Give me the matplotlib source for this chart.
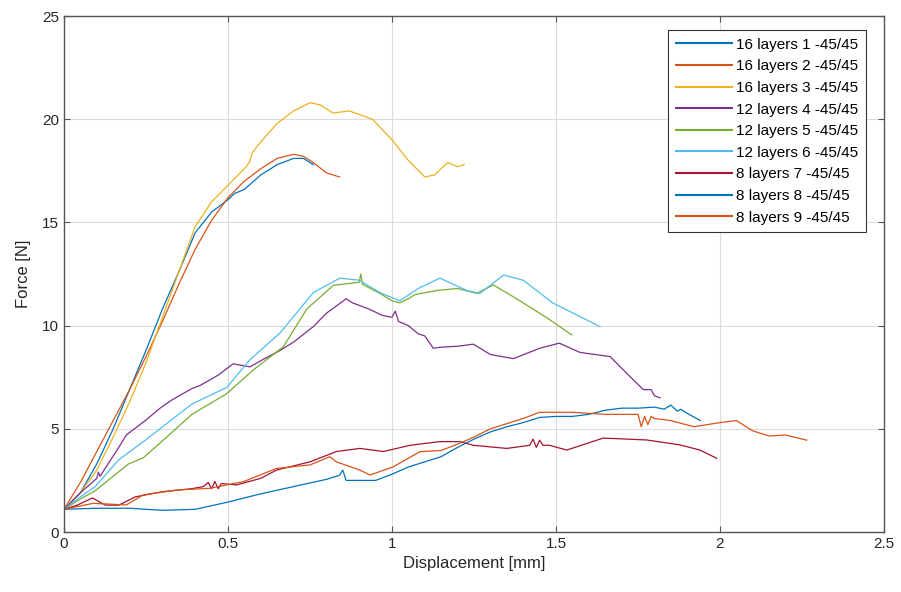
import matplotlib
matplotlib.use("Agg")
import matplotlib.pyplot as plt
import numpy as np

plt.rcParams['font.family'] = ['Liberation Sans', 'DejaVu Sans']

labels = ["16 layers 1 -45/45", "16 layers 2 -45/45", "16 layers 3 -45/45",
          "12 layers 4 -45/45", "12 layers 5 -45/45", "12 layers 6 -45/45",
          "8 layers 7 -45/45", "8 layers 8 -45/45", "8 layers 9 -45/45"]
colors = ["#0072BD", "#D95319", "#EDB120", "#7E2F8E", "#77AC30", "#4DBEEE",
          "#A2142F", "#0072BD", "#D95319"]

x1 = [0, 0.05, 0.1, 0.15, 0.2, 0.25, 0.3, 0.35, 0.4, 0.45, 0.5, 0.52, 0.55, 0.6, 0.65, 0.7, 0.73, 0.76]
y1 = [1.1, 1.9, 3.3, 5.0, 6.9, 8.8, 10.8, 12.6, 14.5, 15.5, 16.1, 16.4, 16.6, 17.3, 17.8, 18.1, 18.1, 17.8]

x2 = [0, 0.05, 0.1, 0.15, 0.2, 0.25, 0.3, 0.35, 0.4, 0.45, 0.5, 0.55, 0.6, 0.65, 0.7, 0.73, 0.76, 0.8, 0.84]
y2 = [1.1, 2.4, 3.9, 5.4, 6.9, 8.5, 10.2, 12.0, 13.7, 15.1, 16.2, 17.0, 17.6, 18.1, 18.3, 18.2, 17.9, 17.4, 17.2]

x3 = [0, 0.05, 0.1, 0.15, 0.2, 0.25, 0.3, 0.35, 0.4, 0.45, 0.5, 0.55, 0.565, 0.575, 0.6, 0.65, 0.7, 0.75, 0.78,
      0.82, 0.87, 0.94, 1.0, 1.05, 1.1, 1.13, 1.17, 1.2, 1.22]
y3 = [1.1, 1.9, 3.0, 4.6, 6.3, 8.2, 10.4, 12.6, 14.8, 16.0, 16.8, 17.6, 17.9, 18.4, 18.9, 19.8, 20.4, 20.8, 20.7,
      20.3, 20.4, 20.0, 19.0, 18.0, 17.2, 17.3, 17.9, 17.7, 17.8]

x4 = [0, 0.05, 0.1, 0.105, 0.11, 0.167, 0.19, 0.248, 0.293, 0.329, 0.39, 0.415, 0.47, 0.516, 0.567, 0.6, 0.659,
      0.7, 0.76, 0.8, 0.852, 0.86, 0.88, 0.93, 0.97, 1.0, 1.01, 1.02, 1.05, 1.08, 1.1, 1.126, 1.146, 1.2, 1.248,
      1.3, 1.37, 1.45, 1.51, 1.573, 1.665, 1.715, 1.766, 1.79, 1.8, 1.817]
y4 = [1.1, 1.9, 2.6, 2.9, 2.7, 4.1, 4.7, 5.4, 6.0, 6.4, 6.95, 7.1, 7.6, 8.15, 8.0, 8.3, 8.8,
      9.2, 9.95, 10.6, 11.2, 11.3, 11.1, 10.8, 10.5, 10.4, 10.7, 10.2, 10.0, 9.6, 9.5, 8.9, 8.95, 9.0, 9.1,
      8.6, 8.4, 8.9, 9.15, 8.7, 8.5, 7.7, 6.9, 6.9, 6.6, 6.5]

x5 = [0, 0.05, 0.095, 0.197, 0.242, 0.299, 0.39, 0.496, 0.577, 0.669, 0.74, 0.821, 0.9, 0.905, 0.91, 0.963,
      1.0, 1.024, 1.05, 1.07, 1.136, 1.2, 1.258, 1.309, 1.38, 1.47, 1.548]
y5 = [1.1, 1.6, 2.0, 3.3, 3.6, 4.4, 5.7, 6.7, 7.85, 8.98, 10.8, 11.95, 12.1, 12.5, 12.0, 11.56,
      11.2, 11.1, 11.3, 11.5, 11.7, 11.8, 11.56, 11.97, 11.3, 10.4, 9.55]

x6 = [0, 0.05, 0.095, 0.167, 0.248, 0.39, 0.496, 0.567, 0.659, 0.76, 0.841, 0.9, 0.963, 1.024, 1.08, 1.146,
      1.228, 1.268, 1.34, 1.4, 1.49, 1.553, 1.634]
y6 = [1.1, 1.7, 2.2, 3.5, 4.45, 6.2, 7.0, 8.35, 9.65, 11.6, 12.3, 12.2, 11.6, 11.2, 11.8, 12.3,
      11.7, 11.56, 12.45, 12.2, 11.1, 10.6, 9.95]

x7 = [0, 0.04, 0.087, 0.126, 0.167, 0.217, 0.299, 0.39, 0.425, 0.44, 0.45, 0.46, 0.47, 0.48, 0.526, 0.6,
      0.648, 0.75, 0.831, 0.902, 0.974, 1.055, 1.146, 1.207, 1.248, 1.35, 1.42, 1.43, 1.44, 1.45, 1.46, 1.48,
      1.533, 1.644, 1.776, 1.878, 1.939, 1.99]
y7 = [1.1, 1.3, 1.65, 1.3, 1.3, 1.7, 1.95, 2.1, 2.2, 2.4, 2.1, 2.45, 2.1, 2.35, 2.28, 2.6,
      3.0, 3.4, 3.9, 4.05, 3.9, 4.2, 4.38, 4.38, 4.2, 4.05, 4.2, 4.5, 4.1, 4.45, 4.2, 4.2,
      3.97, 4.55, 4.46, 4.22, 3.97, 3.57]

x8 = [0, 0.1, 0.2, 0.3, 0.4, 0.5, 0.6, 0.7, 0.8, 0.84, 0.85, 0.86, 0.9, 0.95, 1.0, 1.05, 1.1, 1.15, 1.2,
      1.25, 1.3, 1.35, 1.4, 1.45, 1.5, 1.55, 1.6, 1.65, 1.7, 1.75, 1.8, 1.83, 1.85, 1.87, 1.88, 1.9, 1.94]
y8 = [1.1, 1.15, 1.15, 1.05, 1.1, 1.45, 1.85, 2.2, 2.55, 2.75, 3.0, 2.5, 2.5, 2.5, 2.8, 3.15, 3.4, 3.65, 4.1,
      4.5, 4.85, 5.1, 5.3, 5.55, 5.6, 5.6, 5.7, 5.9, 6.0, 6.0, 6.05, 5.95, 6.15, 5.85, 5.95, 5.75, 5.4]

x9 = [0, 0.089, 0.19, 0.242, 0.343, 0.445, 0.547, 0.648, 0.75, 0.811, 0.83, 0.902, 0.933, 1.004, 1.085,
      1.15, 1.207, 1.25, 1.3, 1.4, 1.45, 1.55, 1.65, 1.75, 1.76, 1.77, 1.78, 1.79, 1.8, 1.85, 1.92, 2.0,
      2.05, 2.1, 2.15, 2.2, 2.264]
y9 = [1.1, 1.39, 1.31, 1.8, 2.03, 2.12, 2.44, 3.08, 3.25, 3.65, 3.4, 3.0, 2.76, 3.16, 3.89,
      3.95, 4.3, 4.6, 5.0, 5.5, 5.8, 5.8, 5.7, 5.7, 5.1, 5.6, 5.2, 5.6, 5.5, 5.4, 5.1, 5.3,
      5.4, 4.9, 4.65, 4.7, 4.45]

xs = [x1, x2, x3, x4, x5, x6, x7, x8, x9]
ys = [y1, y2, y3, y4, y5, y6, y7, y8, y9]

fig = plt.figure(figsize=(9.01, 5.92), dpi=100)
ax = fig.add_axes([64/901, 60/592, 820/901, 516/592])

for xv, yv, c, lab in zip(xs, ys, colors, labels):
    ax.plot(xv, yv, color=c, lw=0.9, label=lab)

ax.set_xlim(0, 2.5)
ax.set_ylim(0, 25)
ax.set_xticks(np.arange(0, 2.51, 0.5))
ax.set_xticklabels(["0", "0.5", "1", "1.5", "2", "2.5"])
ax.set_yticks(np.arange(0, 26, 5))
ax.grid(True, color='#dcdcdc', lw=0.8)
ax.set_axisbelow(True)
for s in ax.spines.values():
    s.set_color('#555555')
    s.set_linewidth(1.0)
ax.tick_params(direction='in', top=True, right=True, length=4, colors='#555555',
               labelcolor='#262626', labelsize=11)
ax.set_xlabel("Displacement [mm]", fontsize=12, color='#262626')
ax.set_ylabel("Force [N]", fontsize=12, color='#262626', labelpad=8)

leg = ax.legend(loc='upper right', bbox_to_anchor=((866-64)/820, (532-30)/516),
                fontsize=11, handlelength=3.7, frameon=True, fancybox=False,
                framealpha=1, edgecolor='#333333', borderaxespad=0,
                labelspacing=0.5, handletextpad=0.25, borderpad=0.5)
leg.get_frame().set_linewidth(0.8)
for h in leg.get_lines():
    h.set_linewidth(1.5)

fig.savefig("out.png", dpi=100)
